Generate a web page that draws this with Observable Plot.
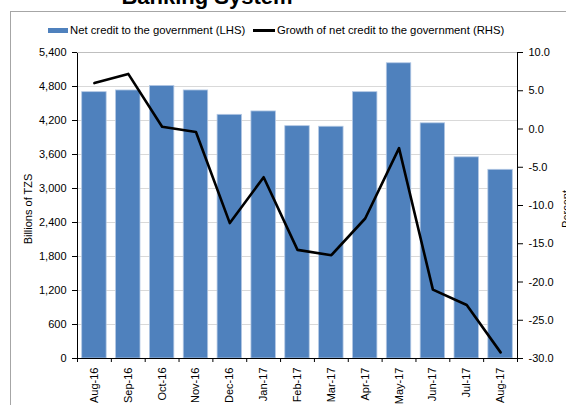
<!DOCTYPE html>
<html>
<head>
<meta charset="utf-8">
<script src="https://cdn.jsdelivr.net/npm/d3@7"></script>
<script src="https://cdn.jsdelivr.net/npm/@observablehq/plot@0.6"></script>
<style>
html, body { margin: 0; padding: 0; width: 566px; height: 405px; overflow: hidden; background: #fff; }
body { position: relative; font-family: "Liberation Sans", Arial, sans-serif; color: #000; }
#chart { position: absolute; left: 0; top: 0; }
#frame { position: absolute; left: 10px; top: 11px; width: 700px; height: 500px; border: 1px solid #a6a6a6; pointer-events: none; }
#title { position: absolute; left: 0; top: -14px; width: 414px; text-align: center; font-size: 22px; line-height: 22px; font-weight: bold; white-space: nowrap; }
.leg { position: absolute; font-size: 11.3px; line-height: 13px; top: 23.5px; white-space: nowrap; }
.sw { position: absolute; }
.rot { position: absolute; font-size: 11px; line-height: 13px; white-space: nowrap; transform: translate(-50%, -50%) rotate(-90deg); }
</style>
</head>
<body>
<div id="chart"></div>
<div id="frame"></div>
<div id="title">Banking System</div>
<div class="sw" style="left:48px;top:27.5px;width:20px;height:5px;background:#4F81BD;"></div>
<div class="leg" style="left:70px;">Net credit to the government (LHS)</div>
<div class="sw" style="left:253px;top:29px;width:22px;height:2.5px;background:#000;"></div>
<div class="leg" style="left:277px;">Growth of net credit to the government (RHS)</div>
<div class="rot" style="left:27.7px;top:209px;">Billions of TZS</div>
<div class="rot" style="left:566.4px;top:209px;">Percent</div>
<script>
const months = ["Aug-16","Sep-16","Oct-16","Nov-16","Dec-16","Jan-17","Feb-17","Mar-17","Apr-17","May-17","Jun-17","Jul-17","Aug-17"];
const credit = [4700, 4730, 4810, 4730, 4300, 4360, 4100, 4090, 4700, 5210, 4150, 3550, 3330];
const growth = [6.0, 7.2, 0.3, -0.4, -12.3, -6.3, -15.8, -16.5, -11.7, -2.5, -21.0, -23.0, -29.2];
const leftTicks = [0, 600, 1200, 1800, 2400, 3000, 3600, 4200, 4800, 5400];
const rightTicks = [-30, -25, -20, -15, -10, -5, 0, 5, 10];

const leftMax = 5400, rMin = -30, rMax = 10;
const toLeft = p => (p - rMin) / (rMax - rMin) * leftMax;
const fromLeft = v => v / leftMax * (rMax - rMin) + rMin;

const data = months.map((m, i) => ({i, month: m, credit: credit[i], growth: growth[i]}));

const plot = Plot.plot({
  width: 566,
  height: 405,
  marginTop: 52,
  marginBottom: 47,
  marginLeft: 77,
  marginRight: 49,
  style: {fontFamily: "'Liberation Sans', Arial, sans-serif", fontSize: "11px", background: "transparent", color: "#000"},
  x: {domain: [-0.5, months.length - 0.5]},
  y: {domain: [0, leftMax]},
  marks: [
    Plot.ruleY(leftTicks.filter(t => t > 0 && t < leftMax), {stroke: "#d9d9d9", strokeWidth: 1}),
    Plot.rectY(data, {x1: d => d.i - 0.5, x2: d => d.i + 0.5, y: "credit", insetLeft: 4.7, insetRight: 4.7, fill: "#4F81BD", stroke: "#b3c8e4", strokeWidth: 0.8}),
    Plot.line(data, {x: "i", y: d => toLeft(d.growth), stroke: "#000", strokeWidth: 2.6}),
    Plot.frame({stroke: "#000"}),
    Plot.ruleY([leftMax], {stroke: "#bfbfbf", strokeWidth: 1}),
    Plot.axisY({anchor: "left", ticks: leftTicks, tickFormat: d3.format(","), tickSize: 5, tickPadding: 6, label: null}),
    Plot.axisY({anchor: "right", ticks: rightTicks.map(toLeft), tickFormat: v => fromLeft(v).toFixed(1), tickSize: 5, tickPadding: 6, label: null}),
    Plot.axisX({ticks: d3.range(months.length + 1).map(k => k - 0.5), tickSize: 4, tickFormat: () => "", label: null}),
    Plot.axisX({ticks: d3.range(months.length), tickFormat: k => months[k], tickRotate: -90, tickSize: 0, tickPadding: 9, label: null})
  ]
});
document.getElementById("chart").appendChild(plot);
</script>
</body>
</html>
